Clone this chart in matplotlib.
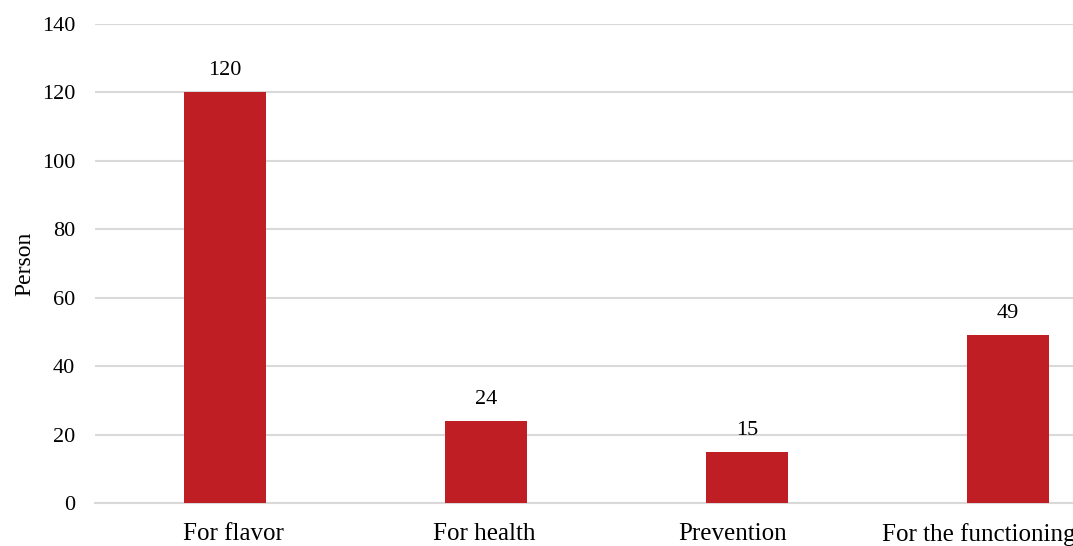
import matplotlib.pyplot as plt
from matplotlib.transforms import ScaledTranslation

categories = ['For flavor', 'For health', 'Prevention', 'For the functioning']
values = [120, 24, 15, 49]
yticks = [0, 20, 40, 60, 80, 100, 120, 140]

plt.rcParams['font.family'] = ['Liberation Serif', 'DejaVu Serif']

fig = plt.figure(figsize=(10.73, 5.46), dpi=100)
# axes run past the right edge, like the cropped original
ax = fig.add_axes([94.5 / 1073, 43 / 546, 1044 / 1073, 479 / 546])

x = range(len(categories))
bars = ax.bar(x, values, width=0.315, color='#BE1E24', zorder=3)
for b, v in zip(bars, values):
    ax.text(b.get_x() + b.get_width() / 2, v + 3.5, str(v),
            ha='center', va='bottom', fontsize=16)

ax.set_xlim(-0.5, 3.5)
ax.set_ylim(0, 140)
ax.set_yticks(yticks)
ax.set_xticks(list(x))
ax.set_xticklabels(categories, fontsize=18)
ax.tick_params(axis='y', labelsize=16, length=0, pad=14)
ax.tick_params(axis='x', length=0, pad=14.5)
ax.set_ylabel('Person', fontsize=17, labelpad=4.5)

# nudge the category labels sideways the way the original sits (pixels)
shifts = [8, -2, -14, -29]
for lab, dx in zip(ax.get_xticklabels(), shifts):
    lab.set_transform(lab.get_transform() + ScaledTranslation(dx / 100, 0, fig.dpi_scale_trans))

ax.grid(axis='y', color='#D9D9D9', linewidth=1.5, zorder=0)
for s in ['top', 'right', 'left']:
    ax.spines[s].set_visible(False)
ax.spines['bottom'].set_color('#D9D9D9')
ax.spines['bottom'].set_linewidth(1.5)

fig.savefig('out.png', dpi=100)
